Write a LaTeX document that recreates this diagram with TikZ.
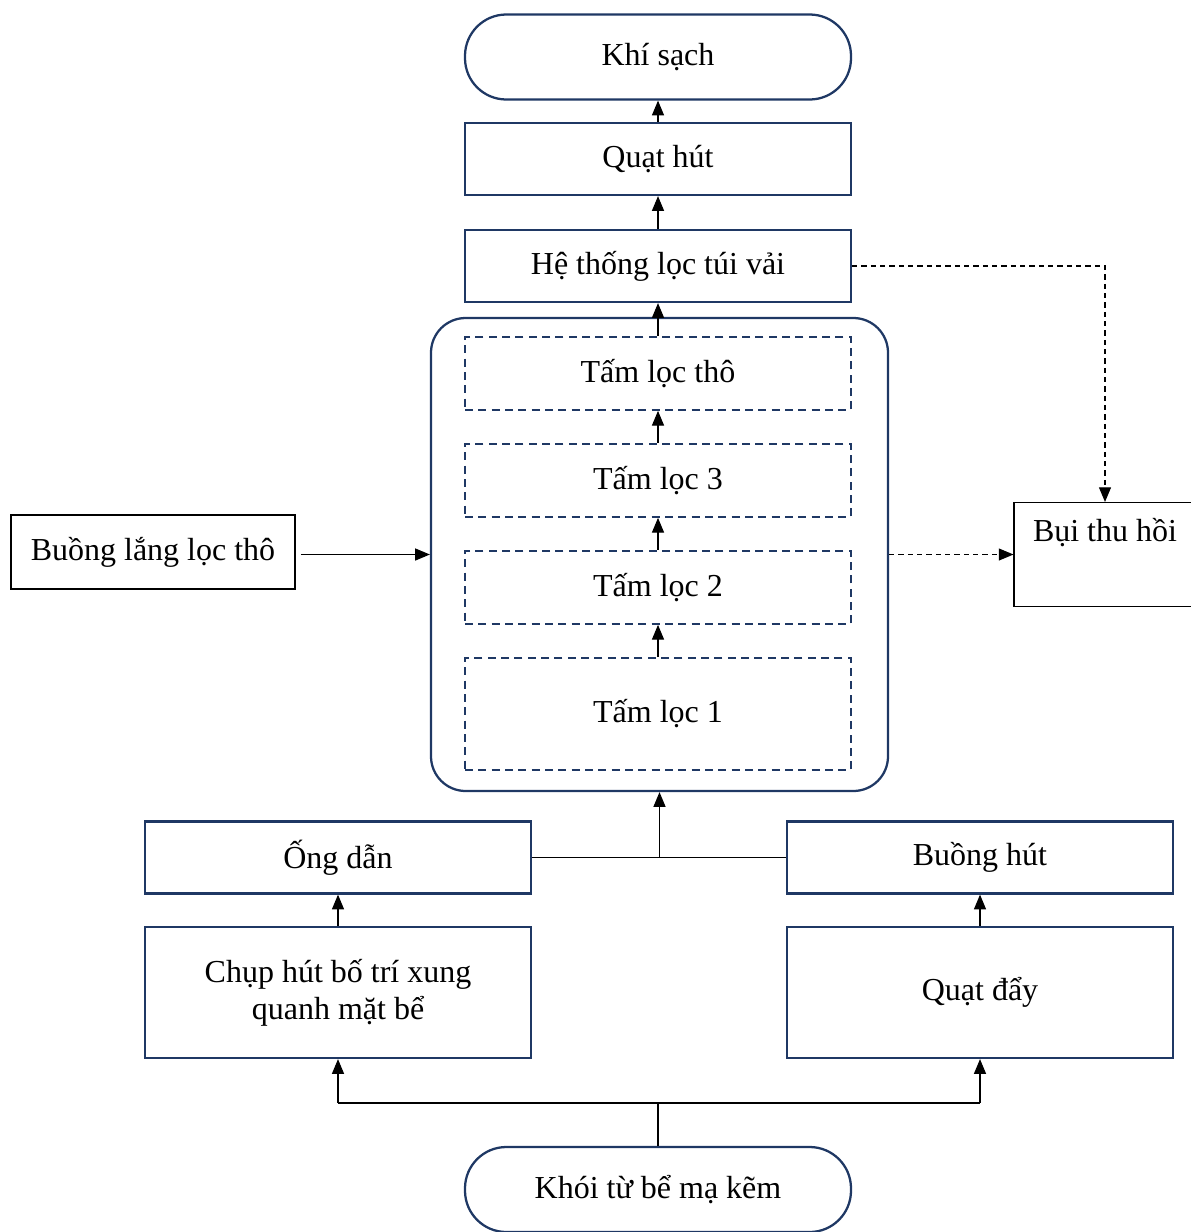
\documentclass[tikz,border=0pt]{standalone}
\usepackage{fontspec}
\setmainfont{Liberation Serif}
\usetikzlibrary{arrows.meta}
\definecolor{navy}{HTML}{1F3864}
\begin{document}
\begin{tikzpicture}[x=0.75pt,y=-0.75pt,
  every node/.style={font=\fontsize{24}{28}\selectfont, align=center, inner sep=0pt},
  sz/.style 2 args={minimum width=#1*0.75pt, minimum height=#2*0.75pt},
  navybox/.style={draw=navy, line width=1.7pt, rectangle},
  stadium/.style={navybox, rounded corners=31pt},
  filterbox/.style={draw=navy, line width=1.3pt, dash pattern=on 6pt off 4pt, rectangle},
  plainbox/.style={draw=black, line width=0.8pt, rectangle},
  arr/.style={-{Triangle[length=11pt,width=9pt]}, line width=0.8pt, black},
  darr/.style={arr, dash pattern=on 4pt off 3pt},
  ln/.style={line width=0.8pt, black}]
\useasboundingbox (0,0) rectangle (1190,1232);

% main column
\node[stadium, sz={386}{85}] (khi) at (658,57) {Khí sạch};
\node[navybox, sz={386}{72}] (quat) at (658,159) {Quạt hút};
\node[navybox, sz={386}{72}] (he) at (658,266) {Hệ thống lọc túi vải};

% filter housing with its stages
\node[navybox, rounded corners=26pt, sz={457}{473}] (hop) at (659.5,554.5) {};
\node[filterbox, sz={386}{73}] (tho) at (658,373.5) {Tấm lọc thô};
\node[filterbox, sz={386}{73}] (l3) at (658,480.5) {Tấm lọc 3};
\node[filterbox, sz={386}{73}] (l2) at (658,587.5) {Tấm lọc 2};
\node[filterbox, sz={386}{112}] (l1) at (658,714) {Tấm lọc 1};

% side boxes
\node[plainbox, sz={284}{74}] (lang) at (153,552) {Buồng lắng lọc thô};
\node[plainbox, sz={182}{104}] (bui) at (1105,554.5) {Bụi thu hồi\\\strut};

% lower branches
\node[navybox, sz={386}{72}] (ong) at (338,857.5) {Ống dẫn};
\node[navybox, sz={386}{72}] (bh) at (980,857.5) {Buồng hút};
\node[navybox, sz={386}{131}] (chup) at (338,992.5) {Chụp hút bố trí xung\\quanh mặt bể};
\node[navybox, sz={386}{131}] (qd) at (980,992.5) {Quạt đẩy};
\node[stadium, sz={386}{85}] (khoi) at (658,1189.5) {Khói từ bể mạ kẽm};

\coordinate (jtop) at (hop.south |- ong.east);
\coordinate (jbot) at (658,1103);
\coordinate (jl) at (338,1103);
\coordinate (jr) at (980,1103);
\coordinate (bend) at (1105,266);
\coordinate (lout) at ([xshift=4pt]lang.east |- hop.west);

% upward flow
\draw[arr] (l1.north) -- (l2.south);
\draw[arr] (l2.north) -- (l3.south);
\draw[arr] (l3.north) -- (tho.south);
\draw[arr] (tho.north) -- (he.south);
\draw[arr] (he.north) -- (quat.south);
\draw[arr] (quat.north) -- (khi.south);

% inputs to the housing
\draw[ln] (ong.east) -- (bh.west);
\draw[arr] (jtop) -- (hop.south);
\draw[arr] (lout) -- (hop.west);
\draw[arr] (chup.north) -- (ong.south);
\draw[arr] (qd.north) -- (bh.south);
\draw[ln] (khoi.north) -- (jbot);
\draw[ln] (jl) -- (jr);
\draw[arr] (jl) -- (chup.south);
\draw[arr] (jr) -- (qd.south);

% dust collection
\draw[darr] (he.east) -- (bend) -- (bui.north);
\draw[darr] (hop.east) -- (bui.west);
\end{tikzpicture}
\end{document}
